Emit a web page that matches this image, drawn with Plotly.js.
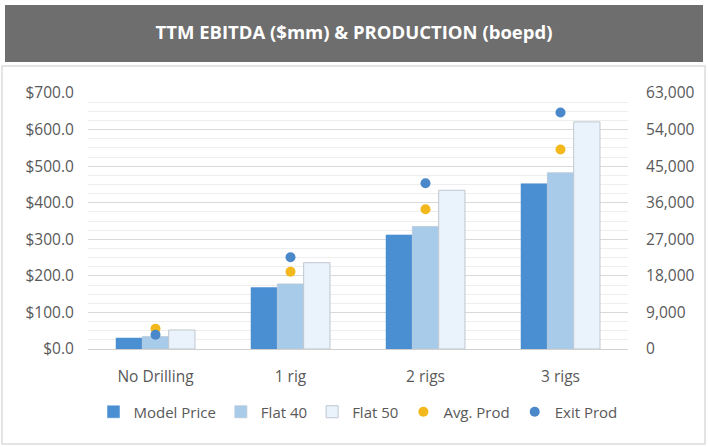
<!DOCTYPE html>
<html><head><meta charset="utf-8">
<script src="https://cdn.plot.ly/plotly-3.0.1.min.js"></script>
<style>html,body{margin:0;padding:0;background:#fff;}#chart{width:708px;height:447px;}</style>
</head><body><div id="chart"></div>
<script>
const categories = ["No Drilling", "1 rig", "2 rigs", "3 rigs"];
const modelPrice = [30, 168, 312, 452];
const flat40 = [34, 178, 335, 482];
const flat50 = [52, 236, 434, 621];
const avgProd = [5000, 19000, 34400, 49100];
const exitProd = [3500, 22600, 40800, 58200];

const font = "'Open Sans', 'Noto Sans', sans-serif";
const grey = '#595959';

const traces = [
  {type:'bar', name:'Model Price', x:categories, y:modelPrice, marker:{color:'#4a8fd2', line:{color:'#4a8fd2', width:0.5}}},
  {type:'bar', name:'Flat 40', x:categories, y:flat40, marker:{color:'#a8cbe9', line:{color:'#b9c9d8', width:0.8}}},
  {type:'bar', name:'Flat 50', x:categories, y:flat50, marker:{color:'#eaf3fc', line:{color:'#bfc6ce', width:1}}},
  {type:'scatter', mode:'markers', name:'Avg. Prod', x:categories, y:avgProd, yaxis:'y2', marker:{color:'#f2b81c', size:10}},
  {type:'scatter', mode:'markers', name:'Exit Prod', x:categories, y:exitProd, yaxis:'y2', marker:{color:'#4a88c9', size:10}}
];

const L=88, R=80, T=93, B=98, W=708, H=447;
const pw = W-L-R, ph = H-T-B;
const px = p => (p-L)/pw;
const py = p => (H-B-p)/ph;

const layout = {
  width:W, height:H,
  margin:{l:L, r:R, t:T, b:B, pad:0},
  paper_bgcolor:'#ffffff', plot_bgcolor:'#ffffff',
  font:{family:font, color:grey, size:15},
  title:{text:'<b>TTM EBITDA ($mm) & PRODUCTION (boepd)</b>', font:{family:font, size:18.5, color:'#ffffff'}, x:0.5, xanchor:'center', xref:'container', y:1-33/H, yref:'container', yanchor:'middle'},
  barmode:'group', bargap:0.415, bargroupgap:0,
  showlegend:true,
  legend:{orientation:'h', x:0.5, xanchor:'center', y:py(412), yanchor:'middle', font:{size:15, color:grey}, traceorder:'normal', itemwidth:30},
  xaxis:{type:'category', showgrid:false, showline:false, zeroline:false, ticks:'outside', ticklen:13, tickcolor:'rgba(0,0,0,0)', tickfont:{size:15.5, color:grey}},
  yaxis:{range:[0,700], dtick:100, tickprefix:'$', tickformat:',.1f', showgrid:true, gridcolor:'#d9d9d9', gridwidth:1, zeroline:true, zerolinecolor:'#d0d0d0', zerolinewidth:1, ticks:'outside', ticklen:10, tickcolor:'rgba(0,0,0,0)', tickfont:{size:15.5, color:grey}, fixedrange:true,
    minor:{dtick:25, showgrid:true, gridcolor:'#eeeeee', gridwidth:1}},
  yaxis2:{range:[0,63000], dtick:9000, tickformat:',d', overlaying:'y', side:'right', showgrid:false, zeroline:false, showline:false, ticks:'outside', ticklen:14, tickcolor:'rgba(0,0,0,0)', tickfont:{size:15.5, color:grey}},
  shapes:[
    {type:'rect', xref:'paper', yref:'paper', x0:px(2), x1:px(705), y0:py(444), y1:py(66), line:{color:'#dcdcdc', width:1.5}, fillcolor:'rgba(0,0,0,0)', layer:'below'},
    {type:'rect', xref:'paper', yref:'paper', x0:px(5), x1:px(703), y0:py(62), y1:py(5), line:{width:0}, fillcolor:'#6e6e6e', layer:'below'}
  ]
};

Plotly.newPlot('chart', traces, layout, {displayModeBar:false, staticPlot:true});
</script></body></html>
